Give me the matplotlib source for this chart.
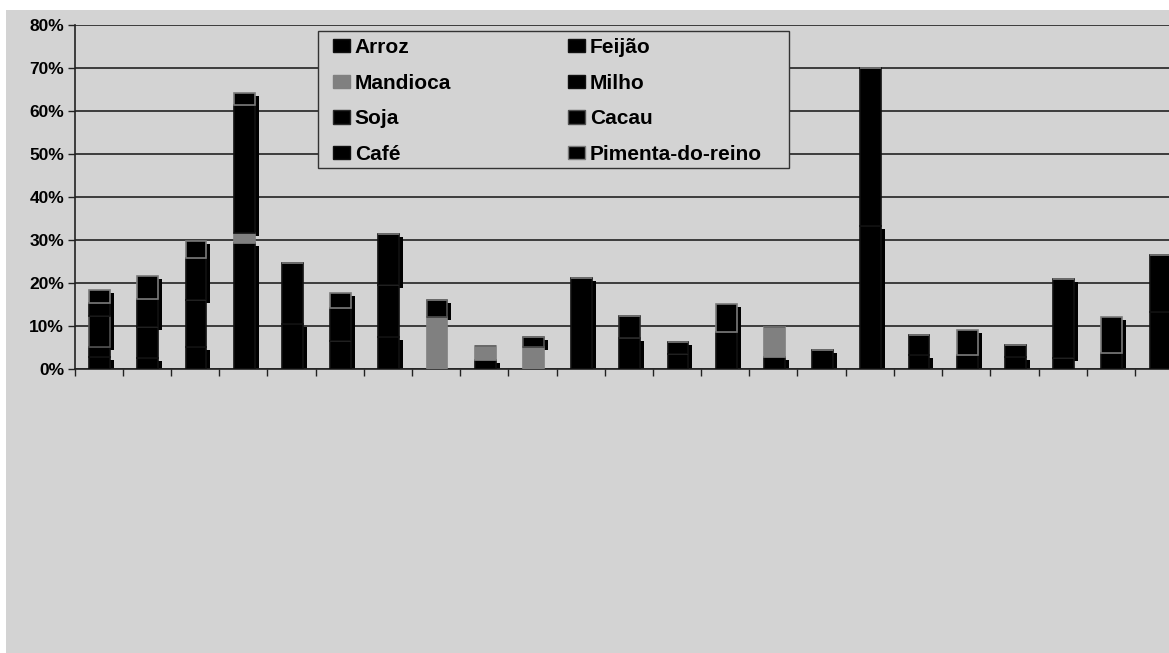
import numpy as np
import matplotlib.pyplot as plt
from matplotlib.patches import Patch, Rectangle
from matplotlib.transforms import ScaledTranslation

# participacao de cada cultura (%) em cada uma das 23 colunas
series = ["Arroz", "Feijão", "Mandioca", "Milho", "Soja", "Cacau", "Café", "Pimenta-do-reino"]

arroz    = [2.8, 2.6, 5.1, 29.3, 10.5, 6.5, 7.4, 0, 2.1, 0, 21.2, 7.2, 3.5, 8.6, 2.8, 4.4, 33.3, 3.3, 3.3, 2.8, 0, 3.7, 13.3]
feijao   = [2.3, 7.2, 10.9, 0, 14.2, 0, 12.1, 0, 0, 0, 0, 0, 0, 0, 0, 0, 36.7, 4.6, 0, 2.7, 2.6, 0, 13.1]
mandioca = [0, 0, 0, 2.3, 0, 0, 0, 12.1, 3.2, 5.1, 0, 0, 0, 0, 7.0, 0, 0, 0, 0, 0, 0, 0, 0]
milho    = [0, 6.5, 9.8, 29.8, 0, 7.7, 11.9, 0, 0, 0, 0, 0, 2.8, 0, 0, 0, 0, 0, 0, 0, 18.3, 0, 0]
soja     = [0, 0, 0, 0, 0, 0, 0, 0, 0, 0, 0, 5.1, 0, 0, 0, 0, 0, 0, 0, 0, 0, 0, 0]
cacau    = [7.2, 0, 0, 0, 0, 0, 0, 3.9, 0, 2.3, 0, 0, 0, 0, 0, 0, 0, 0, 0, 0, 0, 0, 0]
cafe     = [3.0, 0, 0, 0, 0, 0, 0, 0, 0, 0, 0, 0, 0, 0, 0, 0, 0, 0, 0, 0, 0, 0, 0]
pimenta  = [3.1, 5.3, 4.0, 2.7, 0, 3.5, 0, 0, 0, 0, 0, 0, 0, 6.5, 0, 0, 0, 0, 5.7, 0, 0, 8.4, 0]

valores = [arroz, feijao, mandioca, milho, soja, cacau, cafe, pimenta]
y_ticks = [0, 10, 20, 30, 40, 50, 60, 70, 80]

# estilo de cada serie
cores  = ["black", "black", "#808080", "black", "black", "black", "black", "black"]
bordas = ["#111111", "#111111", "#808080", "#111111", "#2a2a2a", "#505050", "#111111", "#7a7a7a"]
sombra = [True, False, False, True, False, True, True, True]

fundo = "#d3d3d3"
W, H = 1169, 653

fig = plt.figure(figsize=(W / 100, H / 100), dpi=100)
fig.patches.append(Rectangle((6 / W, 0), 1, (H - 10) / H, transform=fig.transFigure,
                             facecolor=fundo, edgecolor="none", zorder=-10))

ax = fig.add_axes([74.5 / W, (H - 369) / H, 1108.6 / W, 344 / H])
ax.set_facecolor("none")

n = len(arroz)
x = np.arange(n) + 0.52
larg = 0.43

sombra_tr = ax.transData + ScaledTranslation(4 / 100, -3 / 100, fig.dpi_scale_trans)

base = np.zeros(n)
for i, v in enumerate(valores):
    v = np.array(v)
    if sombra[i]:
        ax.bar(x, v, larg, bottom=base, color="black", linewidth=0, zorder=2, transform=sombra_tr)
    ax.bar(x, v, larg, bottom=base, color=cores[i], edgecolor=bordas[i], linewidth=1.2, zorder=3)
    base = base + v

ax.set_xlim(0, n)
ax.set_ylim(0, 80)
ax.set_yticks(y_ticks)
ax.set_yticklabels([str(t) + "%" for t in y_ticks], fontfamily="Liberation Sans",
                   fontweight="bold", fontsize=12.5)
ax.set_xticks(np.arange(n + 1))
ax.set_xticklabels([])
ax.tick_params(axis="both", direction="out", length=5, width=1, color="#222222", pad=2.5)

ax.yaxis.grid(True, color="#222222", linewidth=1.2)
ax.set_axisbelow(True)
for s in ["top", "right"]:
    ax.spines[s].set_visible(False)
for s in ["left", "bottom"]:
    ax.spines[s].set_color("#222222")
    ax.spines[s].set_linewidth(1.2)

# caixa da legenda
ax.add_patch(Rectangle((318 / W, 1 - 168 / H), 471 / W, 137 / H, transform=fig.transFigure,
                       facecolor=fundo, edgecolor="#333333", linewidth=1, zorder=4, clip_on=False))

# legenda em 2 colunas, preenchida por linha
ordem = [0, 2, 4, 6, 1, 3, 5, 7]
handles = [Patch(facecolor=cores[i], edgecolor=bordas[i], linewidth=1) for i in ordem]
labels = [series[i] for i in ordem]
leg = ax.legend(handles, labels, ncol=2, loc="upper left",
                bbox_to_anchor=(333 / W, 1 - 38 / H), bbox_transform=fig.transFigure,
                prop=dict(family="Liberation Sans", weight="bold", size=15),
                frameon=False, handlelength=0.8, handleheight=0.6, handletextpad=0.25,
                columnspacing=5.6, labelspacing=0.8, borderpad=0, borderaxespad=0)
leg.set_zorder(5)

fig.savefig("out.png", dpi=100, facecolor="white")
